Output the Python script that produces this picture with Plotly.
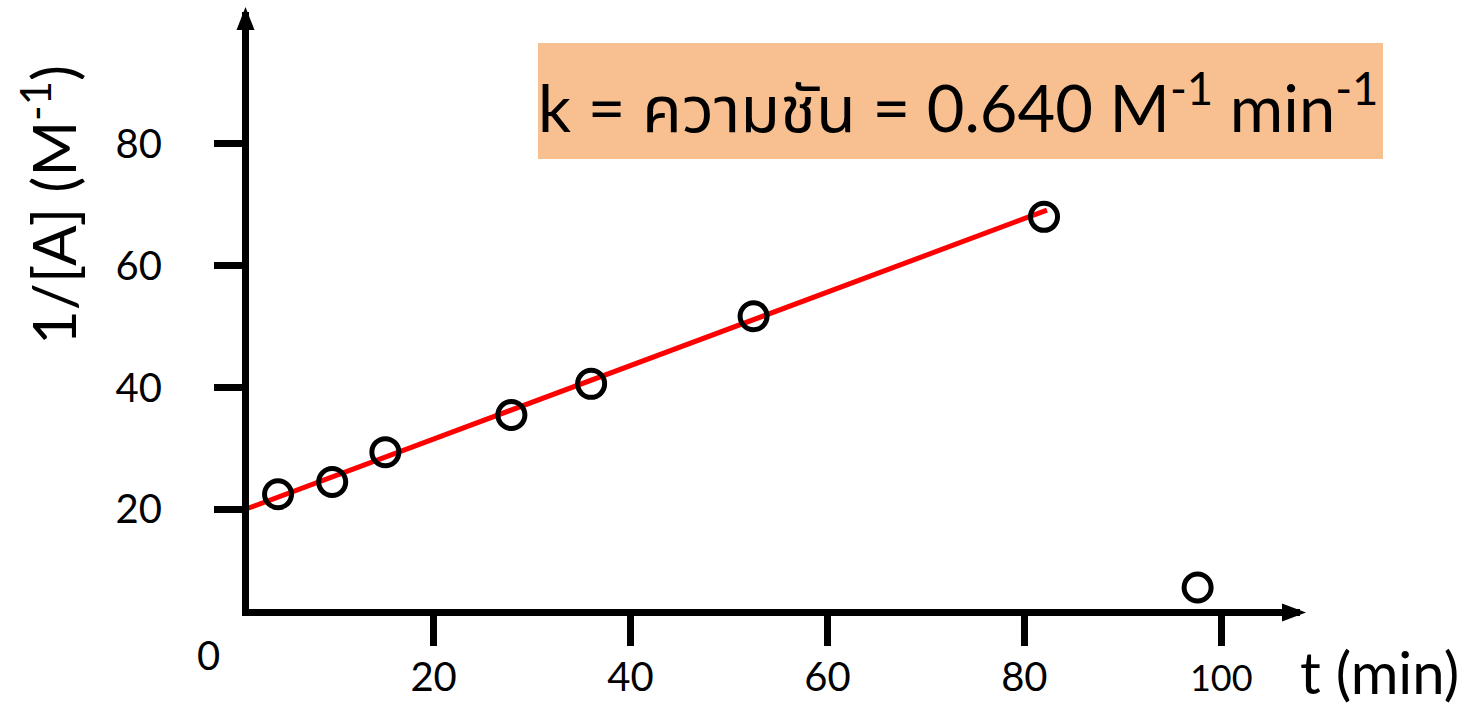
import plotly.graph_objects as go

# ---- data ----
t_min = [4.2, 9.7, 15.1, 27.9, 36.0, 52.5, 82.0, 97.6]
inv_A = [22.5, 24.5, 29.4, 35.5, 40.6, 51.7, 68.0, 7.2]
fit_t = [1.0, 82.3]
fit_invA = [20.1, 69.1]
x_tickvals = [20, 40, 60, 80, 100]
x_ticktext = ["20", "40", "60", "80", "<span style='font-size:36px'>100</span>"]
y_tickvals = [20, 40, 60, 80]
y_ticktext = ["20", "40", "60", "80"]
box_text = "k = ความชัน = 0.640 M<sup>-1</sup> min<sup>-1</sup>"
x_title = "t (min)"
y_title = "1/[A] (M<sup>-1</sup>)"

# ---- layout geometry (pixels) ----
WIDTH, HEIGHT = 1475, 706
ML, MR, MT, MB = 249, 175, 12, 97
PW = WIDTH - ML - MR
PH = HEIGHT - MT - MB


def px(xp):
    return (xp - ML) / PW


def py(yp):
    return 1 - (yp - MT) / PH


FONT = "Lato, 'Noto Sans Thai', 'Noto Sans', sans-serif"

fig = go.Figure()
fig.add_trace(go.Scatter(
    x=fit_t, y=fit_invA, mode="lines",
    line=dict(color="#FF0000", width=5), showlegend=False, hoverinfo="skip"))
fig.add_trace(go.Scatter(
    x=t_min, y=inv_A, mode="markers",
    marker=dict(symbol="circle-open", size=27, color="black",
                line=dict(color="black", width=5)),
    cliponaxis=False, showlegend=False))

fig.update_layout(
    width=WIDTH, height=HEIGHT,
    margin=dict(l=ML, r=MR, t=MT, b=MB, autoexpand=False),
    plot_bgcolor="white", paper_bgcolor="white",
    font=dict(family=FONT, color="black"),
    xaxis=dict(range=[1.25, 108.0], showgrid=False, zeroline=False,
               showline=True, linecolor="black", linewidth=7,
               ticks="outside", ticklen=30, tickwidth=7, tickcolor="black",
               tickvals=x_tickvals, ticktext=x_ticktext, automargin=False,
               tickfont=dict(size=40, family=FONT), ticklabelstandoff=-3),
    yaxis=dict(range=[3.67, 101.6], showgrid=False, zeroline=False,
               showline=True, linecolor="black", linewidth=7,
               ticks="outside", ticklen=28, tickwidth=7, tickcolor="black",
               tickvals=y_tickvals, ticktext=y_ticktext, automargin=False,
               tickfont=dict(size=40, family=FONT), ticklabelstandoff=44),
)

# corner filler and arrowheads
fig.add_shape(type="rect", xref="paper", yref="paper",
              x0=px(242), x1=px(249), y0=py(609), y1=py(616),
              fillcolor="black", line=dict(width=0))
fig.add_shape(type="path", xref="paper", yref="paper",
              path=f"M {px(245.5)} {py(7)} L {px(236.5)} {py(30)} L {px(254.5)} {py(30)} Z",
              fillcolor="black", line=dict(width=0))
fig.add_shape(type="path", xref="paper", yref="paper",
              path=f"M {px(1306)} {py(612.5)} L {px(1282)} {py(603.5)} L {px(1282)} {py(621.5)} Z",
              fillcolor="black", line=dict(width=0))

# annotation box
fig.add_shape(type="rect", xref="paper", yref="paper",
              x0=px(538), x1=px(1383), y0=py(159), y1=py(43),
              fillcolor="#F8C090", line=dict(width=0), layer="below")
fig.add_annotation(xref="paper", yref="paper", x=px(958), y=py(103),
                   text=box_text, showarrow=False,
                   font=dict(size=65, family=FONT, color="black"),
                   xanchor="center", yanchor="middle")

# axis titles and origin label
fig.add_annotation(xref="paper", yref="paper", x=px(49), y=py(205),
                   text=y_title, showarrow=False, textangle=-90,
                   font=dict(size=60, family=FONT, color="black"),
                   xanchor="center", yanchor="middle")
fig.add_annotation(xref="paper", yref="paper", x=px(1379), y=py(672),
                   text=x_title, showarrow=False,
                   font=dict(size=58, family=FONT, color="black"),
                   xanchor="center", yanchor="middle")
fig.add_annotation(xref="paper", yref="paper", x=px(208), y=py(655),
                   text="0", showarrow=False,
                   font=dict(size=40, family=FONT, color="black"),
                   xanchor="center", yanchor="middle")

fig.write_html("out.html", config={"displayModeBar": False},
               post_script="document.body.style.margin='0px';")
